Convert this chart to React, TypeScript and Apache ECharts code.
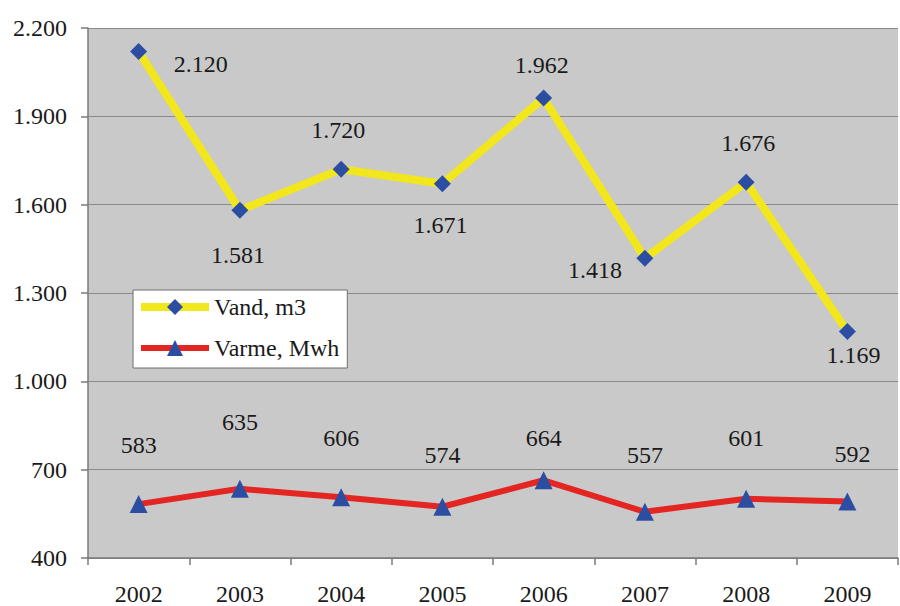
import React, { useEffect, useRef } from "react";
import * as echarts from "echarts";

const years = ["2002", "2003", "2004", "2005", "2006", "2007", "2008", "2009"];
const vand = [2120, 1581, 1720, 1671, 1962, 1418, 1676, 1169];
const varme = [583, 635, 606, 574, 664, 557, 601, 592];
const vandLabelOffsets: [number, number][] = [
  [62, 12], [-2, 45], [-3, -39], [-2, 41], [-2, -33], [-50, 12], [2, -39], [6, 23],
];
const varmeLabelOffsets: [number, number][] = [
  [0, -59], [0, -67], [0, -59], [0, -52], [0, -42], [0, -57], [0, -61], [5, -47],
];

const fmt = (v: number) => {
  const s = String(Math.round(v));
  return s.replace(/\B(?=(\d{3})+(?!\d))/g, ".");
};

const FONT = "'Times New Roman', 'Liberation Serif', Tinos, 'DejaVu Serif', serif";
const FS = 24;

export default function App() {
  const ref = useRef<HTMLDivElement>(null);
  useEffect(() => {
    if (!ref.current) return;
    const chart = echarts.init(ref.current, undefined, { renderer: "svg" });
    const labelStyle = {
      show: true,
      position: "inside" as const,
      fontFamily: FONT,
      fontSize: FS,
      color: "#1a1a1a",
      formatter: (p: any) => fmt(p.value),
    };
    chart.setOption({
      animation: false,
      backgroundColor: "#ffffff",
      textStyle: { fontFamily: FONT },
      grid: {
        left: 88,
        right: 2,
        top: 28,
        bottom: 48,
        show: true,
        backgroundColor: "#c9c9c9",
        borderWidth: 0,
      },
      legend: {
        orient: "vertical",
        left: 133,
        top: 290,
        backgroundColor: "#ffffff",
        borderColor: "#6e6e6e",
        borderWidth: 1,
        padding: [5, 8, 8, 4],
        itemWidth: 68,
        itemHeight: 20,
        itemGap: 17,
        textStyle: { fontFamily: FONT, fontSize: FS, color: "#1a1a1a" },
        data: [
          { name: "Vand, m3", lineStyle: { width: 8 } },
          { name: "Varme, Mwh", lineStyle: { width: 6 } },
        ],
      },
      xAxis: {
        type: "category",
        data: years,
        boundaryGap: true,
        axisLine: { show: true, lineStyle: { color: "#7a7a7a", width: 1.5 } },
        axisTick: { show: true, length: 7, lineStyle: { color: "#7a7a7a", width: 1.5 } },
        axisLabel: { fontFamily: FONT, fontSize: FS, color: "#1a1a1a", margin: 24 },
        splitLine: { show: false },
      },
      yAxis: {
        type: "value",
        min: 400,
        max: 2200,
        interval: 300,
        axisLine: { show: true, lineStyle: { color: "#7a7a7a", width: 1.5 } },
        axisTick: { show: true, length: 7, lineStyle: { color: "#7a7a7a", width: 1.5 } },
        axisLabel: {
          fontFamily: FONT,
          fontSize: FS,
          color: "#1a1a1a",
          margin: 21,
          formatter: (v: number) => fmt(v),
        },
        splitLine: { show: true, lineStyle: { color: "#8a8a8a", width: 1 } },
      },
      series: [
        {
          name: "Vand, m3",
          type: "line",
          data: vand.map((v, i) => ({
            value: v,
            label: { ...labelStyle, offset: vandLabelOffsets[i] },
          })),
          symbol: "diamond",
          symbolSize: 17,
          lineStyle: { color: "#f2e61c", width: 8 },
          itemStyle: { color: "#2b4ea3" },
          z: 3,
        },
        {
          name: "Varme, Mwh",
          type: "line",
          data: varme.map((v, i) => ({
            value: v,
            label: { ...labelStyle, offset: varmeLabelOffsets[i] },
          })),
          symbol: "triangle",
          symbolSize: 18,
          lineStyle: { color: "#e42622", width: 6 },
          itemStyle: { color: "#2b4ea3" },
          z: 3,
        },
      ],
    });
    return () => chart.dispose();
  }, []);
  return (
    <div
      ref={ref}
      style={{ position: "fixed", left: 0, top: 0, width: 900, height: 606 }}
    />
  );
}
